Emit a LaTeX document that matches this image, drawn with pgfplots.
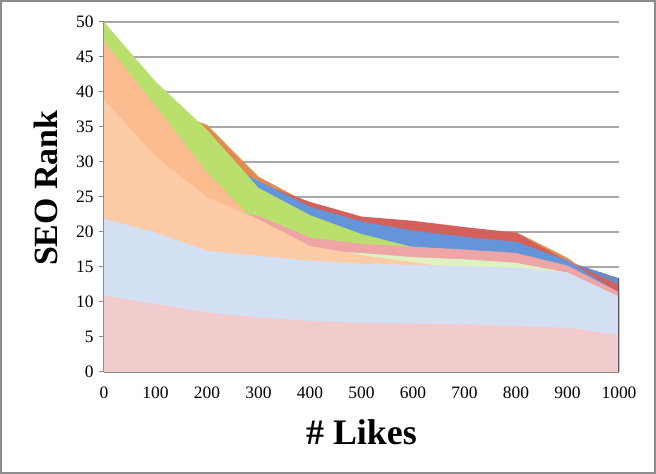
\documentclass[border=0pt]{standalone}
\usepackage{fontspec}
\setmainfont{Liberation Serif}
\usepackage{pgfplots}
\usepackage{pgfplotstable}
\pgfplotsset{compat=1.18}
\definecolor{cPink}{HTML}{F2CCCC}
\definecolor{cLblue}{HTML}{D3DFF3}
\definecolor{cPeach}{HTML}{FDCCA7}
\definecolor{cPgreen}{HTML}{DDF2C3}
\definecolor{cSalmon}{HTML}{EEA5A5}
\definecolor{cOrange}{HTML}{FBBC8F}
\definecolor{cGreen}{HTML}{BADF6D}
\definecolor{cBlue}{HTML}{6495DA}
\definecolor{cRed}{HTML}{D4605C}
\definecolor{cRust}{HTML}{E08C50}
\definecolor{cSlate}{HTML}{6A8AC4}
\definecolor{gridgray}{HTML}{A8A8A8}
\definecolor{axisgray}{HTML}{8C8C8C}
\definecolor{framegray}{HTML}{8C8C8C}
\pgfplotstableread{
x    pink lblue peach pgreen salmon orange green blue red  rust slate
0    10.9 21.9  38.9  20    30     47.2   50.0  40   40   45   10
100  9.7  19.9  30.8  19    26     38.0   41.5  35   35   38   10
200  8.5  17.3  25.0  18    23.5   28.5   34.6  31   30   35.3 10
300  7.8  16.6  21.8  17.5  22.3   21.0   26.3  27.3 27.0 27.9 10
400  7.3  15.9  18.0  17.4  19.2   17.0   22.4  23.6 24.3 24.0 10
500  7.0  15.5  16.7  17.0  18.3   16.0   19.7  21.5 22.2 21.5 10
600  6.9  15.3  15.7  16.4  17.9   15.0   17.85 20.2 21.6 20.5 10
700  6.8  15.1  14.6  16.1  17.5   14.0   16.8  19.3 20.7 20.0 10
800  6.6  14.9  14.3  15.6  17.0   14.0   16.0  18.6 19.9 20.0 10
900  6.3  14.2  13.8  14.2  15.2   13.0   14.0  15.9 15.8 16.3 15.8
1000 5.3  10.8  10.5  10.5  11.4   10.0   10.0  11.3 12.4 11.0 13.4
}\datatable
\begin{document}
\begin{tikzpicture}
\useasboundingbox (0bp,0bp) rectangle (656bp,474bp);
\draw[draw=framegray, line width=2bp] (1bp,1bp) rectangle (655bp,473bp);
\begin{axis}[
  at={(104bp,102bp)}, anchor=south west,
  scale only axis, width=515bp, height=350bp,
  xmin=0, xmax=1000, ymin=0, ymax=50,
  xtick={0,100,...,1000}, ytick={0,5,...,50},
  axis x line*=bottom, axis y line*=left,
  axis line style={-, draw=axisgray, line width=1.2bp},
  ymajorgrids, grid style={draw=gridgray, line width=1.6bp},
  tick align=outside, major tick length=5bp,
  xtick style={draw=none},
  ytick style={draw=axisgray, line width=1bp},
  ticklabel style={font=\fontsize{17.5}{20}\selectfont, text=black},
  /pgf/number format/assume math mode=true,
  /pgf/number format/1000 sep={},
  xticklabel style={yshift=-6bp},
  yticklabel style={xshift=-2bp},
  xlabel={\bfseries \# Likes},
  ylabel={\bfseries SEO Rank},
  every axis x label/.style={at={(axis description cs:0.5,-0.171)}, anchor=center, font=\fontsize{36}{40}\selectfont},
  every axis y label/.style={at={(axis description cs:-0.113,0.525)}, anchor=center, rotate=90, font=\fontsize{34}{38}\selectfont},
]
\addplot[fill=cSlate, draw=none] table[x=x,y=slate]{\datatable} \closedcycle;
\addplot[fill=cRust, draw=none] table[x=x,y=rust]{\datatable} \closedcycle;
\addplot[fill=cRed, draw=none] table[x=x,y=red]{\datatable} \closedcycle;
\addplot[fill=cBlue, draw=none] table[x=x,y=blue]{\datatable} \closedcycle;
\addplot[fill=cGreen, draw=none] table[x=x,y=green]{\datatable} \closedcycle;
\addplot[fill=cOrange, draw=none] table[x=x,y=orange]{\datatable} \closedcycle;
\addplot[fill=cSalmon, draw=none] table[x=x,y=salmon]{\datatable} \closedcycle;
\addplot[fill=cPgreen, draw=none] table[x=x,y=pgreen]{\datatable} \closedcycle;
\addplot[fill=cPeach, draw=none] table[x=x,y=peach]{\datatable} \closedcycle;
\addplot[fill=cLblue, draw=none] table[x=x,y=lblue]{\datatable} \closedcycle;
\addplot[fill=cPink, draw=none] table[x=x,y=pink]{\datatable} \closedcycle;
\addplot[draw=black!65, line width=1.2bp] coordinates {(1000,0) (1000,13.4)};
\end{axis}
\end{tikzpicture}
\end{document}
